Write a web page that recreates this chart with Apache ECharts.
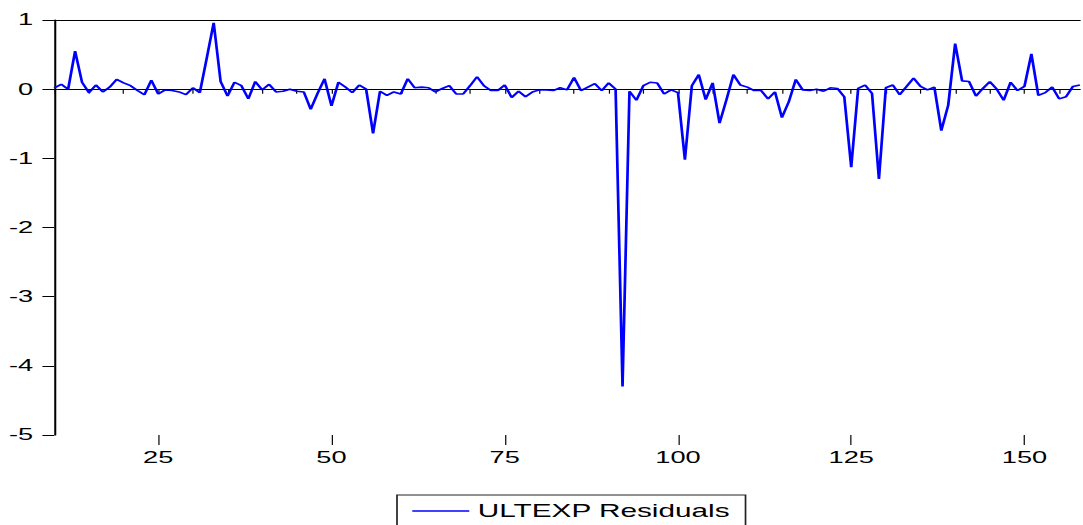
<!DOCTYPE html>
<html>
<head>
<meta charset="utf-8">
<script src="https://cdn.jsdelivr.net/npm/echarts@6/dist/echarts.min.js"></script>
<style>
  html, body { margin: 0; padding: 0; background: #fff; overflow: hidden; }
  #wrap { width: 1083px; height: 525px; overflow: hidden; }
  /* the chart is laid out narrow and stretched sideways, giving the wide lettering */
  #chart { height: 525px; transform-origin: 0 0; }
</style>
</head>
<body>
<div id="wrap"><div id="chart"></div></div>
<script>
// Residuals of ULTEXP, observations 10 .. 158
const firstObs = 10;
const lastObs = 158;
const residuals = [
  0.02, 0.07, 0.00, 0.55, 0.10, -0.05, 0.06, -0.04, 0.03, 0.14,      // 10-19
  0.09, 0.05, -0.02, -0.08, 0.13, -0.07, -0.01, -0.02, -0.04, -0.08, // 20-29
  0.02, -0.05, 0.45, 0.96, 0.11, -0.10, 0.10, 0.05, -0.14, 0.11,     // 30-39
  -0.01, 0.07, -0.04, -0.03, 0.00, -0.03, -0.04, -0.29, -0.06, 0.15, // 40-49
  -0.24, 0.10, 0.03, -0.05, 0.06, 0.00, -0.64, -0.03, -0.09, -0.04,  // 50-59
  -0.07, 0.15, 0.02, 0.03, 0.02, -0.04, 0.01, 0.05, -0.07, -0.07,    // 60-69
  0.05, 0.18, 0.05, -0.02, -0.02, 0.06, -0.12, -0.03, -0.11, -0.04,  // 70-79
  -0.01, -0.01, -0.02, 0.02, -0.01, 0.17, -0.02, 0.03, 0.08, -0.02,  // 80-89
  0.09, 0.00, -4.30, -0.03, -0.16, 0.05, 0.10, 0.09, -0.07, -0.01,   // 90-99
  -0.05, -1.02, 0.05, 0.21, -0.15, 0.09, -0.49, -0.15, 0.21, 0.06,   // 100-109
  0.03, -0.02, -0.02, -0.14, -0.04, -0.41, -0.18, 0.14, -0.01, -0.02,// 110-119
  0.00, -0.03, 0.02, 0.01, -0.11, -1.13, 0.01, 0.06, -0.06, -1.30,   // 120-129
  0.02, 0.06, -0.08, 0.04, 0.16, 0.04, -0.01, 0.03, -0.60, -0.23,    // 130-139
  0.66, 0.12, 0.11, -0.10, 0.01, 0.11, 0.00, -0.16, 0.10, -0.02,     // 140-149
  0.04, 0.51, -0.09, -0.05, 0.03, -0.14, -0.11, 0.04, 0.06           // 150-158
];
const seriesName = 'ULTEXP Residuals';
const xTickLabels = [25, 50, 75, 100, 125, 150];
const xMinorStep = 5;
const yMin = -5, yMax = 1, yStep = 1;

const stretch = 1.7;
const fullW = 1083;
const innerW = fullW / stretch;
const chartDom = document.getElementById('chart');
chartDom.style.width = innerW + 'px';
chartDom.style.transform = 'scaleX(' + stretch + ')';

const points = residuals.map((v, i) => [firstObs + i, v]);
const minorTicks = [];
for (let t = firstObs; t < lastObs; t += xMinorStep) minorTicks.push(t);

const font = "'Liberation Sans', Arial, sans-serif";
const chart = echarts.init(chartDom, null, { renderer: 'svg' });

chart.setOption({
  animation: false,
  backgroundColor: '#fff',
  grid: { left: 54.3 / stretch, right: 3 / stretch, top: 20, bottom: 90 },
  legend: {
    data: [{ name: seriesName, icon: 'rect' }],
    left: 397 / stretch,
    top: 495,
    padding: [7, 9, 10, 9],
    borderColor: '#222',
    borderWidth: 1,
    itemWidth: 57 / stretch,
    itemHeight: 1.6,
    textStyle: { fontFamily: font, fontSize: 17.5, color: '#000' }
  },
  xAxis: [
    {
      type: 'value', min: firstObs, max: lastObs, position: 'bottom',
      axisLine: { show: true, lineStyle: { color: '#000', width: 1.2 } },
      axisTick: { show: true, customValues: minorTicks, length: 4.5, lineStyle: { color: '#000', width: 0.7 } },
      axisLabel: { show: false },
      splitLine: { show: false }
    },
    {
      type: 'value', min: firstObs, max: lastObs, position: 'bottom',
      axisLine: { show: false },
      axisTick: { show: true, customValues: xTickLabels, length: 10, lineStyle: { color: '#000', width: 0.7 } },
      axisLabel: { show: true, customValues: xTickLabels, margin: 14.5, color: '#000', fontFamily: font, fontSize: 16 },
      splitLine: { show: false }
    },
    {
      type: 'value', min: firstObs, max: lastObs, position: 'top',
      axisLine: { show: true, lineStyle: { color: '#000', width: 1.2 } },
      axisTick: { show: false },
      axisLabel: { show: false },
      splitLine: { show: false }
    }
  ],
  yAxis: {
    type: 'value', min: yMin, max: yMax, interval: yStep,
    axisLine: { show: true, lineStyle: { color: '#000', width: 1.2 } },
    axisTick: { show: true, length: 7, lineStyle: { color: '#000', width: 1 } },
    axisLabel: { margin: 12.4, padding: [0, 0, 3, 0], color: '#000', fontFamily: font, fontSize: 16 },
    splitLine: { show: false }
  },
  series: [{
    name: seriesName,
    type: 'line',
    xAxisIndex: 0,
    data: points,
    showSymbol: false,
    symbol: 'none',
    color: '#0000ff',
    lineStyle: { color: '#0000ff', width: 1.6 },
    markLine: {
      silent: true,
      symbol: 'none',
      label: { show: false },
      lineStyle: { color: '#000', width: 1, type: 'solid' },
      data: [{ yAxis: 0 }]
    }
  }]
});
</script>
</body>
</html>
